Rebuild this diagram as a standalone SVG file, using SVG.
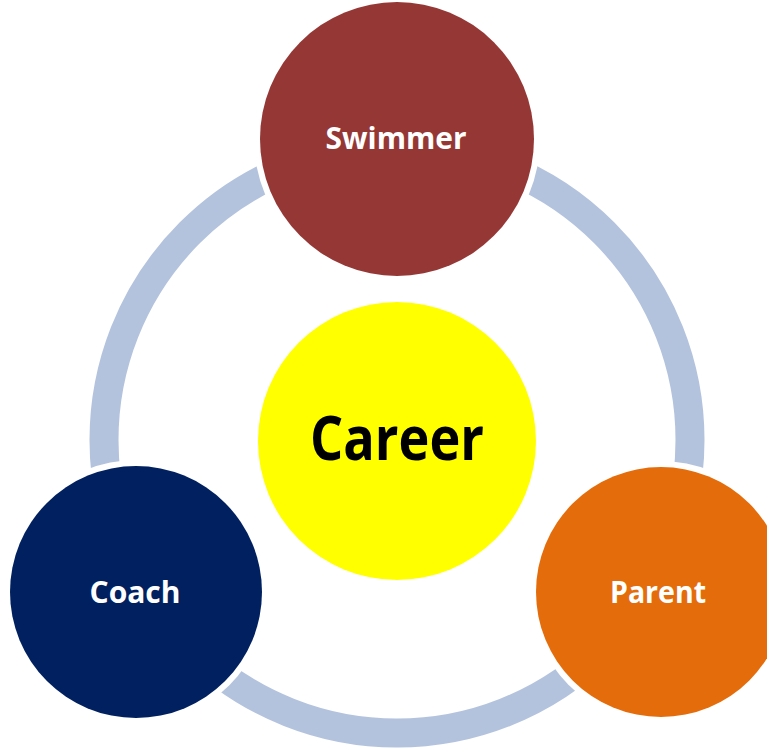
<svg xmlns="http://www.w3.org/2000/svg" width="767" height="748" viewBox="0 0 767 748">
  <style>
    .ring { fill: none; stroke: #B3C3DD; stroke-width: 29; }
    .gap { fill: #FFFFFF; }
    .label { font-family: "Open Sans", "Noto Sans", "DejaVu Sans", sans-serif; font-weight: bold; text-anchor: middle; fill: #FFFFFF; }
  </style>
  <rect width="767" height="748" fill="#FFFFFF"/>
  <g id="connectors">
    <circle class="ring" cx="397" cy="440" r="293"/>
  </g>
  <g id="swimmer">
    <circle class="gap" cx="397" cy="139" r="143"/>
    <circle cx="397" cy="139" r="137" fill="#953735"/>
    <text class="label" x="396" y="149" font-size="30" textLength="141" lengthAdjust="spacingAndGlyphs">Swimmer</text>
  </g>
  <g id="career">
    <circle class="gap" cx="397" cy="441" r="145"/>
    <circle cx="397" cy="441" r="139" fill="#FFFF00"/>
    <text class="label" x="397" y="460" font-size="60" style="fill:#000000" textLength="174" lengthAdjust="spacingAndGlyphs">Career</text>
  </g>
  <g id="coach">
    <circle class="gap" cx="136" cy="592" r="132"/>
    <circle cx="136" cy="592" r="126" fill="#002060"/>
    <text class="label" x="135" y="603" font-size="30" textLength="91" lengthAdjust="spacingAndGlyphs">Coach</text>
  </g>
  <g id="parent">
    <circle class="gap" cx="661" cy="592" r="131"/>
    <circle cx="661" cy="592" r="125" fill="#E46C0A"/>
    <text class="label" x="658" y="603" font-size="30" textLength="96" lengthAdjust="spacingAndGlyphs">Parent</text>
  </g>
</svg>
